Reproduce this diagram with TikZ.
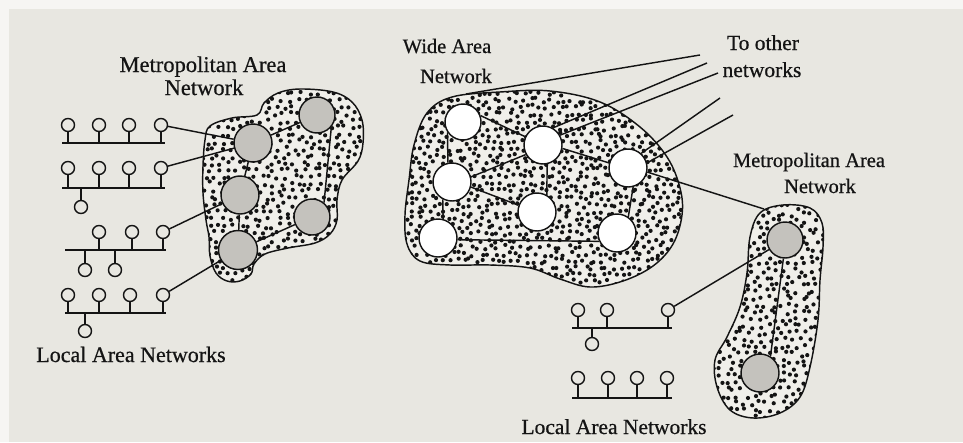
\documentclass[tikz,border=0pt]{standalone}
\usepackage{fontspec}
\setmainfont{Liberation Serif}[FakeBold=0.6]
\usetikzlibrary{calc}
\definecolor{paper}{RGB}{232,231,225}
\definecolor{blobfill}{RGB}{240,239,234}
\definecolor{graycol}{RGB}{196,194,189}
\definecolor{ink}{RGB}{20,20,20}
\newcommand\stipplebox[6]{%
  \foreach \gy [count=\rr] in {#4,#5,...,#6}{%
    \foreach \gx in {#1,#2,...,#3}{%
      \pgfmathsetmacro\px{\gx+mod(\rr,2)*3.5+3*rand}%
      \pgfmathsetmacro\py{\gy+2.6*rand}%
      \fill[ink] (\px,\py) circle[radius=2.1pt];%
    }}}
\tikzset{
  ln/.style={line width=1.45pt, draw=ink},
  grayc/.style={circle, draw=ink, line width=1.45pt, fill=graycol, inner sep=0pt},
  whitec/.style={circle, draw=ink, line width=1.45pt, fill=white, inner sep=0pt, minimum size=38pt},
  sta/.style={circle, draw=ink, line width=1.4pt, fill=paper, inner sep=0pt, minimum size=13pt},
  lbl/.style={anchor=base, inner sep=0pt, text=ink},
  manLshape/.style={insert path={plot[smooth cycle,tension=0.6] coordinates {(205,140) (210,126) (232,118) (257,115) (264,103) (278,93) (300,89) (333,92) (352,102) (362,120) (363,143) (358,161) (342,180) (337,200) (337,220) (330,234) (315,243) (288,248) (265,254) (254,264) (251,274) (240,281) (227,281) (216,273) (210,256) (209,237) (206,220) (203,193) (203,166)}}},
  wanshape/.style={insert path={plot[smooth cycle,tension=0.6] coordinates {(427,113) (452,97) (500,92) (550,91) (600,102) (640,127) (667,157) (680,188) (682,215) (673,244) (653,266) (623,281) (590,287) (560,279) (530,268) (490,265) (450,265) (420,261) (407,244) (405,215) (409,180) (414,145)}}},
  manRshape/.style={insert path={plot[smooth cycle,tension=0.6] coordinates {(783,205) (810,208) (822,223) (823,247) (820,280) (818,320) (810,367) (800,397) (780,413) (753,418) (730,410) (717,387) (715,360) (727,337) (740,307) (747,273) (750,237) (760,213)}}},
}
\begin{document}
\begin{tikzpicture}[x=1pt,y=-1pt]
\useasboundingbox (0,0) rectangle (963,442);
\fill[paper] (0,0) rectangle (963,442);
\fill[white!60!paper] (0,0) rectangle (963,9);
\fill[white!60!paper] (0,0) rectangle (9,442);
\pgfmathsetseed{1234}

% ---- blob fills and stipple
\fill[blobfill, manLshape];
\begin{scope}
  \clip[manLshape];
  \stipplebox{198}{206}{368}{86}{93}{286}
\end{scope}
\fill[blobfill, wanshape];
\begin{scope}
  \clip[wanshape];
  \stipplebox{400}{407}{688}{86}{93}{292}
\end{scope}
\fill[blobfill, manRshape];
\begin{scope}
  \clip[manRshape];
  \stipplebox{710}{718}{830}{200}{207}{422}
\end{scope}

% ---- left MAN circles
\node[grayc, minimum size=36pt] (m1) at (317,115) {};
\node[grayc, minimum size=38pt] (m2) at (253,143) {};
\node[grayc, minimum size=38pt] (m3) at (240,195) {};
\node[grayc, minimum size=36pt] (m4) at (312,217) {};
\node[grayc, minimum size=39pt] (m5) at (238,250) {};

% ---- WAN circles
\node[whitec, minimum size=36pt] (A) at (463,122) {};
\node[whitec] (B) at (543,145) {};
\node[whitec] (C) at (628,168) {};
\node[whitec] (D) at (452,182) {};
\node[whitec] (E) at (537,212) {};
\node[whitec] (F) at (617,233) {};
\node[whitec] (G) at (438,238) {};

% ---- right MAN circles
\node[grayc, minimum size=36pt] (R1) at (785,240) {};
\node[grayc, minimum size=38pt] (R2) at (760,373) {};

% ---- left LANs
\node[sta] (a1) at (68,125) {};
\node[sta] (a2) at (99,125) {};
\node[sta] (a3) at (129,125) {};
\node[sta] (a4) at (161,125) {};
\coordinate (a0L) at (62,143); \coordinate (a0R) at (165,143);
\draw[ln] (a0L) -- (a0R);
\foreach \n in {a1,a2,a3,a4} \draw[ln] (\n) -- (\n |- a0L);

\node[sta] (b1) at (68,168) {};
\node[sta] (b2) at (99,168) {};
\node[sta] (b3) at (129,168) {};
\node[sta] (b4) at (161,168) {};
\node[sta] (b5) at (81,207) {};
\coordinate (b0L) at (62,188); \coordinate (b0R) at (165,188);
\draw[ln] (b0L) -- (b0R);
\foreach \n in {b1,b2,b3,b4,b5} \draw[ln] (\n) -- (\n |- b0L);

\node[sta] (c1) at (99,232) {};
\node[sta] (c2) at (132,232) {};
\node[sta] (c3) at (163,232) {};
\node[sta] (c4) at (85,270) {};
\node[sta] (c5) at (115,270) {};
\coordinate (c0L) at (65,250); \coordinate (c0R) at (166,250);
\draw[ln] (c0L) -- (c0R);
\foreach \n in {c1,c2,c3,c4,c5} \draw[ln] (\n) -- (\n |- c0L);

\node[sta] (d1) at (68,295) {};
\node[sta] (d2) at (99,295) {};
\node[sta] (d3) at (130,295) {};
\node[sta] (d4) at (163,295) {};
\node[sta] (d5) at (85,331) {};
\coordinate (d0L) at (65,313); \coordinate (d0R) at (166,313);
\draw[ln] (d0L) -- (d0R);
\foreach \n in {d1,d2,d3,d4,d5} \draw[ln] (\n) -- (\n |- d0L);

% ---- right LANs
\node[sta] (e1) at (578,310) {};
\node[sta] (e2) at (607,310) {};
\node[sta] (e3) at (668,310) {};
\node[sta] (e4) at (592,344) {};
\coordinate (e0L) at (572,328); \coordinate (e0R) at (672,328);
\draw[ln] (e0L) -- (e0R);
\foreach \n in {e1,e2,e3,e4} \draw[ln] (\n) -- (\n |- e0L);

\node[sta] (f1) at (578,378) {};
\node[sta] (f2) at (608,378) {};
\node[sta] (f3) at (637,378) {};
\node[sta] (f4) at (667,378) {};
\coordinate (f0L) at (572,398); \coordinate (f0R) at (672,398);
\draw[ln] (f0L) -- (f0R);
\foreach \n in {f1,f2,f3,f4} \draw[ln] (\n) -- (\n |- f0L);

% ---- left MAN connections
\draw[ln] (m2) -- (m1);
\draw[ln] (m1.-40) -- (m4.50);
\draw[ln] (m2) -- (m3);
\draw[ln] (m3) -- (m5);
\draw[ln] (m5) -- (m4);
\draw[ln] (a4) -- (m2);
\draw[ln] (b4) -- (m2);
\draw[ln] (c3) -- (m3);
\draw[ln] (d4) -- (m5);

% ---- WAN connections
\draw[ln] (A.214) -- (D.102);
\draw[ln] (D.242) -- (G.75);
\draw[ln] (A.20) -- (B.155);
\draw[ln] (D.15) -- (B.209);
\draw[ln] (D.-15) -- (E.160);
\draw[ln] (B.-78) -- (E.60);
\draw[ln] (B.-10) -- (C.165);
\draw[ln] (C.-75) -- (F.55);
\draw[ln] (G.-5) -- (F.205);

% ---- to other networks
\coordinate (wanTop) at (466,94);
\coordinate (to1) at (700,55);
\coordinate (to2) at (707,63);
\coordinate (to3) at (718,73);
\coordinate (to4) at (720,98);
\coordinate (to5) at (733,115);
\coordinate (rmanin) at (764,209);
\draw[ln] (wanTop) -- (to1);
\draw[ln] (B.60) -- (to2);
\draw[ln] (B.30) -- (to3);
\draw[ln] (C.48) -- (to4);
\draw[ln] (C.15) -- (to5);
\draw[ln] (C.-12) -- (rmanin);

% ---- right MAN connections
\draw[ln] (e3) -- (R1);
\draw[ln] (R1.-95) -- (R2.58);

% ---- blob outlines
\draw[ln, manLshape];
\draw[ln, wanshape];
\draw[ln, manRshape];

% ---- labels
\node[lbl, font=\fontsize{22.5}{26}\selectfont] (tl1) at (203,72) {Metropolitan Area};
\node[lbl, font=\fontsize{22.5}{26}\selectfont] (tl2) at (204,95) {Network};
\node[lbl, font=\fontsize{20.5}{24}\selectfont] (tw1) at (447,53) {Wide Area};
\node[lbl, font=\fontsize{20.5}{24}\selectfont] (tw2) at (456,83) {Network};
\node[lbl, font=\fontsize{21.5}{24}\selectfont] (to1t) at (763,50) {To other};
\node[lbl, font=\fontsize{21.5}{24}\selectfont] (to2t) at (762,77) {networks};
\node[lbl, font=\fontsize{20.5}{24}\selectfont] (tr1) at (809,167) {Metropolitan Area};
\node[lbl, font=\fontsize{20.5}{24}\selectfont] (tr2) at (820,193) {Network};
\node[lbl, font=\fontsize{22}{26}\selectfont] (lanL) at (131,362) {Local Area Networks};
\node[lbl, font=\fontsize{21.5}{26}\selectfont] (lanR) at (614,434) {Local Area Networks};
\end{tikzpicture}
\end{document}
